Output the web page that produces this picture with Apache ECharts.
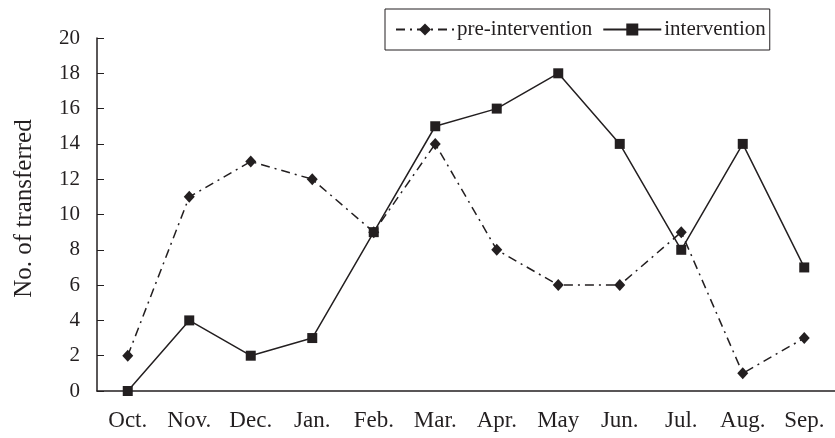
<!DOCTYPE html>
<html><head><meta charset="utf-8">
<script src="https://cdn.jsdelivr.net/npm/echarts@6/dist/echarts.min.js"></script>
<style>html,body{margin:0;padding:0;background:#fff}#c{width:835px;height:438px}</style>
</head><body><div id="c"></div>
<script>
const months = ['Oct.','Nov.','Dec.','Jan.','Feb.','Mar.','Apr.','May','Jun.','Jul.','Aug.','Sep.'];
const preIntervention = [2,11,13,12,9,14,8,6,6,9,1,3];
const intervention = [0,4,2,3,9,15,16,18,14,8,14,7];
const yTitle = 'No. of transferred';
const ink = '#231f20';
const font = 'Liberation Serif';
const chart = echarts.init(document.getElementById('c'), null, {renderer:'canvas'});
chart.setOption({
  animation:false,
  backgroundColor:'#fff',
  grid:{left:97, top:38, width:744, height:353, containLabel:false},
  legend:{
    left:385, top:9, orient:'horizontal',
    borderColor:ink, borderWidth:1, borderRadius:0,
    padding:[10,4,10,10], itemGap:10, itemWidth:58, itemHeight:15,
    textStyle:{fontFamily:font, fontSize:21, color:ink, padding:[0,0,0,-2]},
    data:['pre-intervention','intervention']
  },
  xAxis:{
    type:'category', data:months, boundaryGap:true,
    axisLine:{lineStyle:{color:ink, width:1.5}},
    axisTick:{inside:true, length:6, lineStyle:{color:ink, width:1}},
    axisLabel:{fontFamily:font, fontSize:23, color:ink, margin:18}
  },
  yAxis:{
    type:'value', min:0, max:20, interval:2,
    name:yTitle, nameLocation:'middle', nameGap:60, nameRotate:90,
    nameTextStyle:{fontFamily:font, fontSize:25, color:ink, padding:[0,0,0,12]},
    splitLine:{show:false},
    axisLine:{show:true, lineStyle:{color:ink, width:1.5}},
    axisTick:{show:true, inside:true, length:7, lineStyle:{color:ink, width:1}},
    axisLabel:{fontFamily:font, fontSize:21, color:ink, margin:17}
  },
  series:[
    {name:'pre-intervention', type:'line', data:preIntervention,
     symbol:'diamond', symbolSize:[11,12], showAllSymbol:true,
     itemStyle:{color:ink},
     lineStyle:{color:ink, width:1.5, type:[9,5,2,5]}},
    {name:'intervention', type:'line', data:intervention,
     symbol:'rect', symbolSize:10, showAllSymbol:true,
     itemStyle:{color:ink},
     lineStyle:{color:ink, width:1.5, type:'solid'}}
  ]
});
</script></body></html>
